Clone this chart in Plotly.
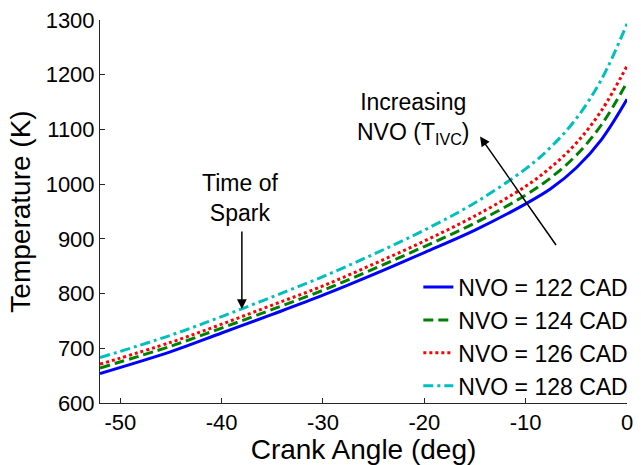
import plotly.graph_objects as go

crank_angle = [-52, -45, -40, -35, -30, -25, -20, -15, -10, -7.5, -5, -2.5, 0]
temp_nvo122 = [654, 694, 728, 762, 797, 835, 875, 916, 964, 992, 1030, 1082, 1155]
temp_nvo124 = [664, 704, 737, 771, 806, 845, 886, 929, 980, 1012, 1053, 1109, 1186]
temp_nvo126 = [671, 711, 744, 779, 814, 854, 896, 942, 996, 1031, 1075, 1135, 1216]
temp_nvo128 = [683, 724, 758, 794, 831, 872, 916, 966, 1028, 1068, 1120, 1192, 1293]

x_ticks = [-50, -40, -30, -20, -10, 0]
x_tick_labels = ["-50", "-40", "-30", "-20", "-10", "0"]
y_ticks = [600, 700, 800, 900, 1000, 1100, 1200, 1300]

series = [
    ("NVO = 122 CAD", temp_nvo122, "#0000FF", "solid"),
    ("NVO = 124 CAD", temp_nvo124, "#008000", "10px,5px"),
    ("NVO = 126 CAD", temp_nvo126, "#FF0000", "3px,3px"),
    ("NVO = 128 CAD", temp_nvo128, "#00BFBF", "10px,4px,3px,4px"),
]

FONT = "Liberation Sans, Arial, Helvetica, sans-serif"

fig = go.Figure()
for name, vals, color, dash in series:
    fig.add_trace(go.Scatter(
        x=crank_angle, y=vals, mode="lines", name=name,
        line=dict(color=color, width=3, dash=dash, shape="spline", smoothing=1.0),
    ))

fig.add_annotation(x=-38, y=772, ax=-38, ay=916, xref="x", yref="y",
                   axref="x", ayref="y", text="", showarrow=True,
                   arrowhead=2, arrowsize=1.3, arrowwidth=1.5, arrowcolor="black")
fig.add_annotation(x=-38.2, y=975, xref="x", yref="y", text="Time of<br>Spark",
                   showarrow=False, font=dict(size=23, color="black", family=FONT))

fig.add_annotation(x=-14.5, y=1087, ax=-6.9, ay=886, xref="x", yref="y",
                   axref="x", ayref="y", text="", showarrow=True,
                   arrowhead=2, arrowsize=1.3, arrowwidth=1.5, arrowcolor="black")
fig.add_annotation(x=-21.1, y=1120, xref="x", yref="y",
                   text="Increasing<br>NVO (T<sub>IVC</sub>)",
                   showarrow=False, font=dict(size=23, color="black", family=FONT))

fig.update_layout(
    width=641, height=465,
    margin=dict(l=100, r=8, t=16, b=57),
    paper_bgcolor="white", plot_bgcolor="white",
    font=dict(family=FONT, size=23, color="black"),
    showlegend=True,
    legend=dict(x=1.012, y=-0.012, xanchor="right", yanchor="bottom",
                bgcolor="rgba(0,0,0,0)", font=dict(size=23, family=FONT),
                tracegroupgap=0, itemwidth=30),
    xaxis=dict(range=[-52, 0], tickvals=x_ticks, ticktext=x_tick_labels,
               ticks="inside", ticklen=5, tickcolor="#262626",
               tickfont=dict(size=22),
               showline=True, linecolor="#262626", linewidth=1,
               showgrid=False, zeroline=False,
               title=dict(text="Crank Angle (deg)", standoff=2)),
    yaxis=dict(range=[600, 1300], tickvals=y_ticks,
               ticks="inside", ticklen=5, tickcolor="#262626",
               tickfont=dict(size=22),
               showline=True, linecolor="#262626", linewidth=1,
               showgrid=False, zeroline=False,
               title=dict(text="Temperature (K)", standoff=6)),
)

fig.write_html("out.html")
